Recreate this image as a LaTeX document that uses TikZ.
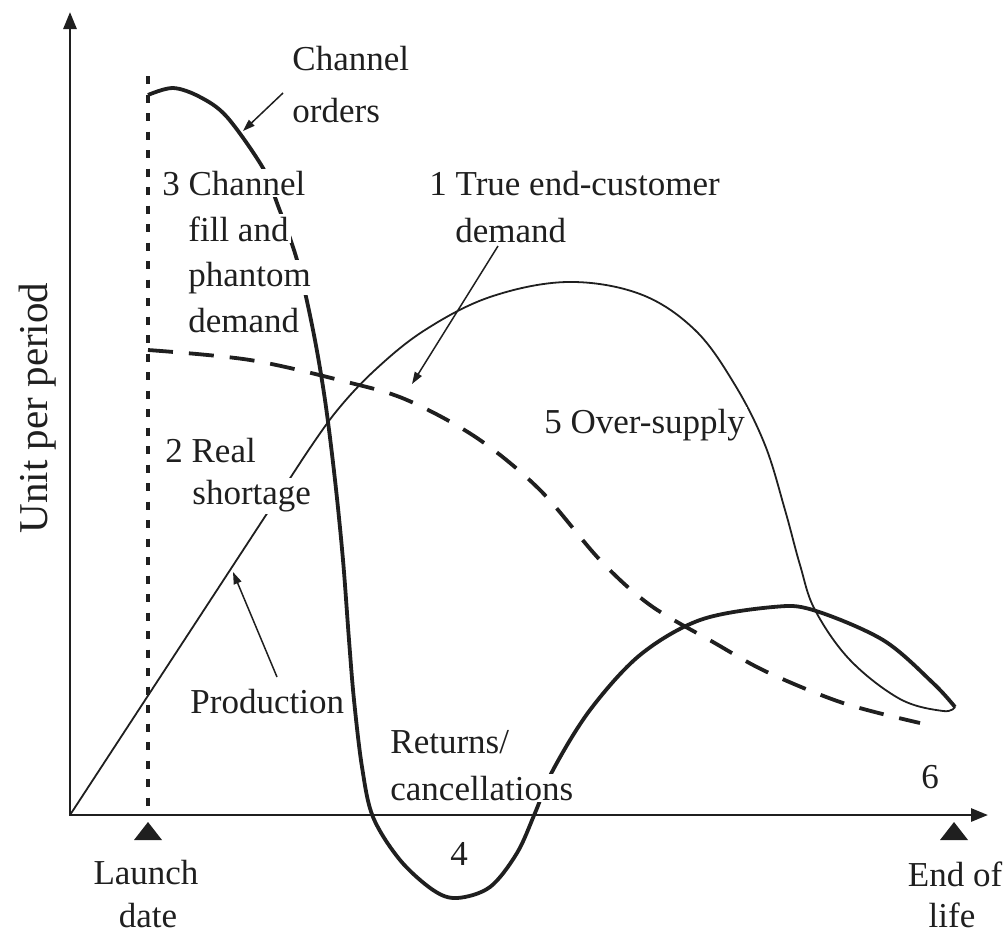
\documentclass[tikz,border=0pt]{standalone}
\usepackage{fontspec}
\setmainfont{Liberation Serif}
\usetikzlibrary{arrows.meta}
\definecolor{ink}{gray}{0.12}
\begin{document}
\begin{tikzpicture}[x=0.5pt,y=-0.5pt,
  lbl/.style={font=\fontsize{17.5}{21}\selectfont, text=ink, fill=white, inner sep=1pt, anchor=base west},
  lblc/.style={lbl, anchor=base},
  axisline/.style={draw=ink, line width=1.4pt, {Triangle[length=8.5pt,width=6.5pt]}-{Triangle[length=8.5pt,width=6.5pt]}},
  thickcurve/.style={draw=ink, line width=1.9pt},
  thincurve/.style={draw=ink, line width=0.9pt},
  dashcurve/.style={draw=ink, line width=1.9pt, dash pattern=on 12.5pt off 8pt},
  dotline/.style={draw=ink, line width=2.4pt, dash pattern=on 4pt off 5.25pt},
  annarrow/.style={draw=ink, line width=0.75pt, -{Triangle[length=6pt,width=4pt]}},
  marker/.style={fill=ink, draw=none}
]
\useasboundingbox (0,0) rectangle (1004,932);

% axes
\coordinate (ytop) at (70,12);
\coordinate (origin) at (70,815);
\coordinate (xend) at (988,815);
\draw[axisline] (ytop) -- (origin) -- (xend);

% launch dotted line
\coordinate (launchtop) at (148,76);
\coordinate (launch) at (148,815);
\draw[dotline] (launchtop) -- (launch);

% markers
\fill[marker] (148,822) -- (162,840) -- (134,840) -- cycle;
\fill[marker] (954,822) -- (968,840) -- (940,840) -- cycle;

% production (thin)
\draw[thincurve] (origin) -- (300,463) plot[smooth, tension=0.6] coordinates {(300,463) (335,413) (375,370) (425,330) (490,297) (567,282) (640,294) (695,330) (735,385) (765,445) (785,510) (800,565) (815,610) (850,660) (900,699) (943,711) (955,707)};

% dashed true demand
\draw[dashcurve] plot[smooth, tension=0.55] coordinates {(148,350) (250,360) (347,382) (407,400) (477,438) (540,490) (600,560) (650,605) (713,642) (767,672) (843,703) (920,723)};

% channel orders (thick)
\draw[thickcurve] plot[smooth, tension=0.55] coordinates {(148,95) (173,88) (200,97) (227,117) (263,168) (277,203) (297,260) (313,330) (325,400) (335,480) (343,560) (349,640) (354,700) (362,767) (373,817) (400,860) (433,890) (457,898) (490,887) (517,853) (535,813) (553,770) (590,710) (640,655) (700,620) (773,607) (813,610) (883,640) (933,683) (955,707)};

% labels
\node[lbl] (channel) at (290,70) {Channel};
\node[lbl] (orders) at (290,122) {orders};
\node[lbl] (c3a) at (160,195) {3 Channel};
\node[lbl] (c3b) at (186,241) {fill and};
\node[lbl] (c3c) at (186,286) {phantom};
\node[lbl] (c3d) at (186,332) {demand};
\node[lbl] (t1a) at (427,195) {1 True end-customer};
\node[lbl] (t1b) at (453,242) {demand};
\node[lbl] (s5) at (542,433) {5 Over-supply};
\node[lbl] (r2a) at (163,462) {2 Real};
\node[lbl] (r2b) at (190,504) {shortage};
\node[lbl] (prod) at (188,713) {Production};
\node[lbl] (ret1) at (388,753) {Returns/};
\node[lbl] (ret2) at (388,800) {cancellations};
\node[lblc] (n4) at (459,865) {4};
\node[lblc] (n6) at (930,788) {6};
\node[lblc] (launch1) at (146,884) {Launch};
\node[lblc] (launch2) at (148,927) {date};
\node[lblc] (eol1) at (955,886) {End of};
\node[lblc] (eol2) at (952,927) {life};
\node[font=\fontsize{20.5}{24}\selectfont, text=ink, rotate=90, anchor=base] (ylab) at (47,408) {Unit per period};

% annotation arrows
\coordinate (aoS) at (283,93);
\coordinate (aoE) at (243,131);
\draw[annarrow] (aoS) -- (aoE);
\coordinate (adS) at (498,246);
\coordinate (adE) at (412,384);
\draw[annarrow] (adS) -- (adE);
\coordinate (apS) at (277,677);
\coordinate (apE) at (233,572);
\draw[annarrow] (apS) -- (apE);
\end{tikzpicture}
\end{document}
